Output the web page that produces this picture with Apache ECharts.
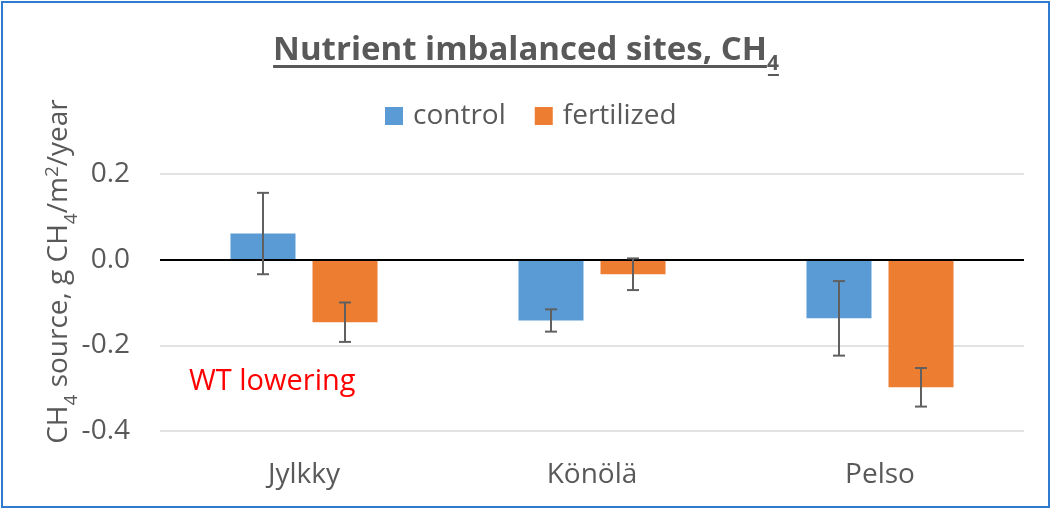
<!DOCTYPE html>
<html>
<head>
<meta charset="utf-8">
<script src="https://cdn.jsdelivr.net/npm/echarts@6/dist/echarts.min.js"></script>
<style>
  html, body { margin: 0; padding: 0; background: #fff; }
  #chart { width: 1052px; height: 509px; }
</style>
</head>
<body>
<div id="chart"></div>
<script>
// data
var categories = ['Jylkky', 'Könölä', 'Pelso'];
var seriesNames = ['control', 'fertilized'];
var controlValues = [0.061, -0.142, -0.137];
var fertilizedValues = [-0.146, -0.034, -0.298];
var controlErr = [0.095, 0.026, 0.087];
var fertilizedErr = [0.046, 0.037, 0.045];
var yMin = -0.4, yMax = 0.2, yStep = 0.2;

var TITLE_MAIN = 'Nutrient imbalanced sites, CH';
var TITLE_SUB = '4';

(function () {
  var dom = document.getElementById('chart');
  var myChart = echarts.init(dom);
  var FONT = '"Open Sans", sans-serif';
  var GREY = '#595959';
  var BAR_W = 65, BAR_GAP = 17;

  // measure title so the underline can follow it
  var ctx = document.createElement('canvas').getContext('2d');
  ctx.font = 'bold 33px ' + FONT;
  var wMain = ctx.measureText(TITLE_MAIN).width;
  ctx.font = 'bold 21px ' + FONT;
  var wSub = ctx.measureText(TITLE_SUB).width;
  var tx0 = (1052 - wMain - wSub) / 2;

  function errData(vals, errs) {
    return vals.map(function (v, i) { return [i, v - errs[i], v + errs[i]]; });
  }

  function errRender(offset) {
    return function (params, api) {
      var x = api.coord([api.value(0), 0])[0] + offset;
      var lo = api.coord([api.value(0), api.value(1)])[1];
      var hi = api.coord([api.value(0), api.value(2)])[1];
      var st = { stroke: '#606060', lineWidth: 2 };
      return {
        type: 'group',
        children: [
          { type: 'line', shape: { x1: x, y1: hi, x2: x, y2: lo }, style: st },
          { type: 'line', shape: { x1: x - 6, y1: hi, x2: x + 6, y2: hi }, style: st },
          { type: 'line', shape: { x1: x - 6, y1: lo, x2: x + 6, y2: lo }, style: st }
        ]
      };
    };
  }

  var option = {
    backgroundColor: '#fff',
    animation: false,
    title: {
      text: '{m|' + TITLE_MAIN + '}{s|' + TITLE_SUB + '}',
      left: 'center',
      top: 27.5,
      padding: 0,
      textStyle: {
        rich: {
          m: { fontFamily: FONT, fontSize: 33, fontWeight: 'bold', color: GREY },
          s: { fontFamily: FONT, fontSize: 21, fontWeight: 'bold', color: GREY, padding: [26, 0, 0, 0] }
        }
      }
    },
    legend: {
      data: seriesNames,
      left: 385,
      top: 102,
      padding: 0,
      itemWidth: 18,
      itemHeight: 18,
      itemGap: 29,
      icon: 'rect',
      textStyle: { fontFamily: FONT, fontSize: 28, color: GREY, padding: [0, 0, 0, 5] }
    },
    grid: { left: 160, right: 28, top: 174, bottom: 78 },
    xAxis: {
      type: 'category',
      data: categories,
      axisLine: { show: false, onZero: false },
      axisTick: { show: false },
      axisLabel: { fontFamily: FONT, fontSize: 28, color: GREY, margin: 30 }
    },
    yAxis: {
      type: 'value',
      min: yMin,
      max: yMax,
      interval: yStep,
      axisLine: { show: false },
      axisTick: { show: false },
      splitLine: { lineStyle: { color: '#d9d9d9', width: 1.5 } },
      axisLabel: {
        fontFamily: FONT, fontSize: 28, color: GREY, margin: 30,
        formatter: function (v) { return v.toFixed(1); }
      },
      name: '{n|CH}{s|4}{n| source, g CH}{s|4}{n|/m}{p|2}{n|/year}',
      nameLocation: 'middle',
      nameGap: 79,
      nameMoveOverlap: false,
      nameTextStyle: {
        padding: [0, 0, 0, 62],
        rich: {
          n: { fontFamily: FONT, fontSize: 28, color: GREY },
          s: { fontFamily: FONT, fontSize: 19, color: GREY, padding: [25, 0, 0, 0] },
          p: { fontFamily: FONT, fontSize: 19, color: GREY, padding: [0, 0, 12, 0] }
        }
      }
    },
    series: [
      {
        name: 'control',
        type: 'bar',
        barWidth: BAR_W,
        barGap: (BAR_GAP / BAR_W * 100).toFixed(1) + '%',
        itemStyle: { color: '#5b9bd5' },
        data: controlValues,
        markLine: {
          silent: true,
          symbol: 'none',
          label: { show: false },
          lineStyle: { color: '#000', width: 2, type: 'solid' },
          data: [{ yAxis: 0 }]
        }
      },
      {
        name: 'fertilized',
        type: 'bar',
        barWidth: BAR_W,
        itemStyle: { color: '#ed7d31' },
        data: fertilizedValues
      },
      {
        name: 'control err',
        type: 'custom',
        z: 5,
        renderItem: errRender(-(BAR_W + BAR_GAP) / 2),
        data: errData(controlValues, controlErr)
      },
      {
        name: 'fertilized err',
        type: 'custom',
        z: 5,
        renderItem: errRender((BAR_W + BAR_GAP) / 2),
        data: errData(fertilizedValues, fertilizedErr)
      }
    ],
    graphic: [
      {
        type: 'text',
        left: 189,
        top: 367,
        style: { text: 'WT lowering', fill: '#ff0000', font: '29px ' + FONT }
      },
      {
        type: 'line',
        shape: { x1: tx0, y1: 66.5, x2: tx0 + wMain, y2: 66.5 },
        style: { stroke: GREY, lineWidth: 3 }
      },
      {
        type: 'line',
        shape: { x1: tx0 + wMain + 1, y1: 75, x2: tx0 + wMain + wSub, y2: 75 },
        style: { stroke: GREY, lineWidth: 2 }
      },
      {
        type: 'rect',
        shape: { x: 2, y: 2, width: 1047, height: 505 },
        style: { fill: 'none', stroke: '#2f7bd0', lineWidth: 2 }
      }
    ]
  };

  if (option && typeof option === 'object') {
    myChart.setOption(option, true);
  }
})();
</script>
</body>
</html>
